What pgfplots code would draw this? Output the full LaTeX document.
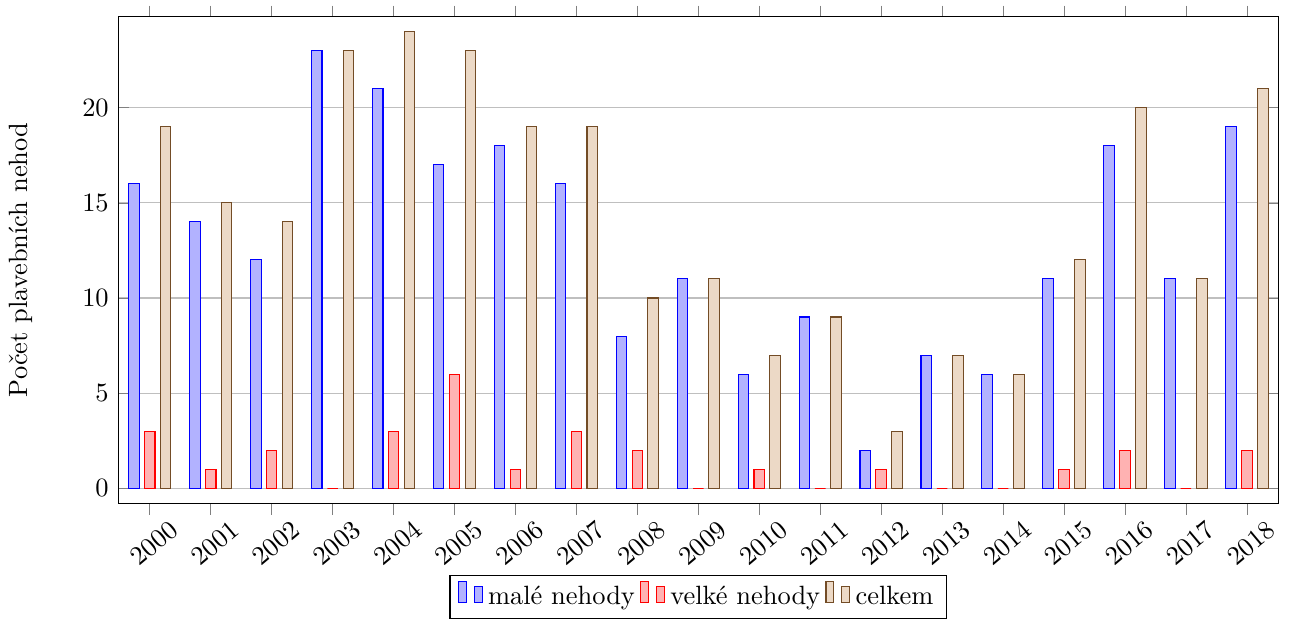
\documentclass[border=0pt]{standalone}
\usepackage{pgfplots}
\pgfplotsset{compat=1.18}
\usepackage{pgfplotstable}

\pgfplotstableread{
rok male velke celkem
2000 16 3 19
2001 14 1 15
2002 12 2 14
2003 23 0 23
2004 21 3 24
2005 17 6 23
2006 18 1 19
2007 16 3 19
2008 8 2 10
2009 11 0 11
2010 6 1 7
2011 9 0 9
2012 2 1 3
2013 7 0 7
2014 6 0 6
2015 11 1 12
2016 18 2 20
2017 11 0 11
2018 19 2 21
}\nehody

\begin{document}
\begin{tikzpicture}
	\begin{axis}[
			scale only axis,
			width=439pt,
			height=184pt,
			ybar,
			bar width=4pt,
			xmin=1999.48, xmax=2018.52,
			ymin=-0.79, ymax=24.78,
			xtick=data,
			xtick align=outside,
			x tick label style={/pgf/number format/1000 sep={}, xshift=1.5pt, yshift=3pt, rotate=40},
			ytick={0,5,10,15,20},
			ymajorgrids,
			ylabel={Počet plavebních nehod},
			ylabel shift=12pt,
			legend style={at={(0.5,-0.147)}, anchor=north, legend columns=-1},
		]
		\addplot table[x=rok, y=male] {\nehody};
		\addplot table[x=rok, y=velke] {\nehody};
		\addplot table[x=rok, y=celkem] {\nehody};
		\legend{malé nehody, velké nehody, celkem}
	\end{axis}
	\path ([yshift=2pt]current axis.outer north);
\end{tikzpicture}
\end{document}
